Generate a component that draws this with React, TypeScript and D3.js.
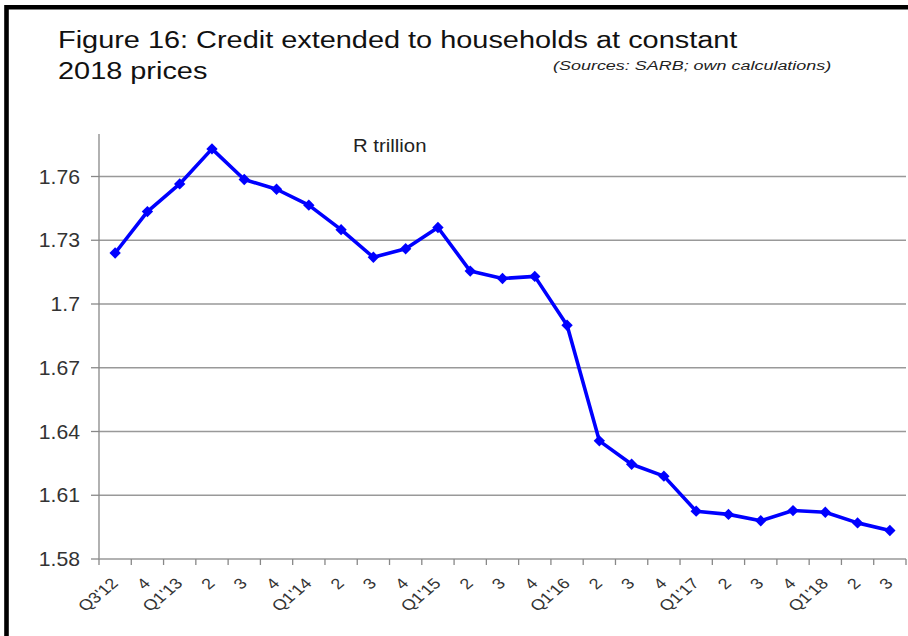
import React from "react";
import * as d3 from "d3";

const categories = [
  "Q3'12", "4", "Q1'13", "2", "3", "4", "Q1'14", "2", "3", "4", "Q1'15", "2", "3", "4",
  "Q1'16", "2", "3", "4", "Q1'17", "2", "3", "4", "Q1'18", "2", "3",
];
const values = [
  1.724, 1.7435, 1.7565, 1.773, 1.7586, 1.754, 1.7465, 1.735, 1.722, 1.726, 1.736, 1.7155, 1.712,
  1.713, 1.690, 1.6356, 1.6246, 1.619, 1.6025, 1.601, 1.598, 1.6028, 1.602, 1.597, 1.5934,
];
const yTicks = [1.58, 1.61, 1.64, 1.67, 1.7, 1.73, 1.76];
const yTickLabels = ["1.58", "1.61", "1.64", "1.67", "1.7", "1.73", "1.76"];
const titleLines = ["Figure 16: Credit extended to households at constant", "2018 prices"];
const sourceText = "(Sources: SARB; own calculations)";
const unitLabel = "R trillion";

const W = 908;
const H = 636;
const plot = { left: 99, right: 906, top: 134, bottom: 559 };
const FONT = "'Liberation Sans', Arial, sans-serif";

export default function App() {
  const x = d3.scaleBand<number>().domain(d3.range(categories.length)).range([plot.left, plot.right]).paddingInner(0).paddingOuter(0);
  const y = d3.scaleLinear().domain([1.58, 1.78]).range([plot.bottom, plot.top]);
  const cx = (i: number) => (x(i) as number) + x.bandwidth() / 2;
  const line = d3.line<number>().x((_, i) => cx(i)).y((v) => y(v));
  const diamond = d3.symbol().type(d3.symbolDiamond2).size(82)() as string;
  const boundaries = d3.range(categories.length + 1).map((i) => plot.left + i * x.bandwidth());

  return (
    <svg width={W} height={H} style={{ position: "absolute", left: 0, top: 0, background: "#fff" }} fontFamily={FONT}>
      <rect x={0} y={0} width={W} height={H} fill="#fff" />
      <path d={`M6.5,${H + 5} L6.5,7.2 L${W + 5},7.2`} fill="none" stroke="#000" strokeWidth={4.6} />
      {titleLines.map((t, i) => (
        <text key={i} transform={`translate(58,${48 + i * 31}) scale(1.23,1)`} fontSize={23.5} fill="#111">{t}</text>
      ))}
      <text transform="translate(553,70) scale(1.33,1)" fontSize={13.5} fontStyle="italic" fill="#222">{sourceText}</text>
      <text transform="translate(353,152) scale(1.1,1)" fontSize={18.5} fill="#222">{unitLabel}</text>
      {yTicks.map((t, i) => (
        <g key={i}>
          {i > 0 && <line x1={plot.left} x2={plot.right} y1={y(t)} y2={y(t)} stroke="#999" strokeWidth={1.6} />}
          <line x1={plot.left - 8} x2={plot.left} y1={y(t)} y2={y(t)} stroke="#888" strokeWidth={1.3} />
          <text transform={`translate(80,${y(t)}) scale(1.06,1)`} dy="0.35em" textAnchor="end" fontSize={20} fill="#333">{yTickLabels[i]}</text>
        </g>
      ))}
      <line x1={plot.left} x2={plot.left} y1={plot.top} y2={plot.bottom} stroke="#888" strokeWidth={1.3} />
      <line x1={plot.left} x2={plot.right} y1={plot.bottom} y2={plot.bottom} stroke="#999" strokeWidth={1.6} />
      {boundaries.map((bx, i) => (
        <line key={i} x1={bx} x2={bx} y1={plot.bottom} y2={plot.bottom + 6} stroke="#888" strokeWidth={1.3} />
      ))}
      {categories.map((c, i) => (
        <text key={i} transform={`translate(${cx(i) - 5},${plot.bottom + 18}) scale(1.2,1) rotate(-45)`} textAnchor="end" dy="0.7em" fontSize={15} fill="#333">{c}</text>
      ))}
      <path d={line(values) as string} fill="none" stroke="#0000ff" strokeWidth={3.6} strokeLinejoin="round" />
      {values.map((v, i) => (
        <path key={i} d={diamond} transform={`translate(${cx(i)},${y(v)})`} fill="#0000ff" />
      ))}
    </svg>
  );
}
